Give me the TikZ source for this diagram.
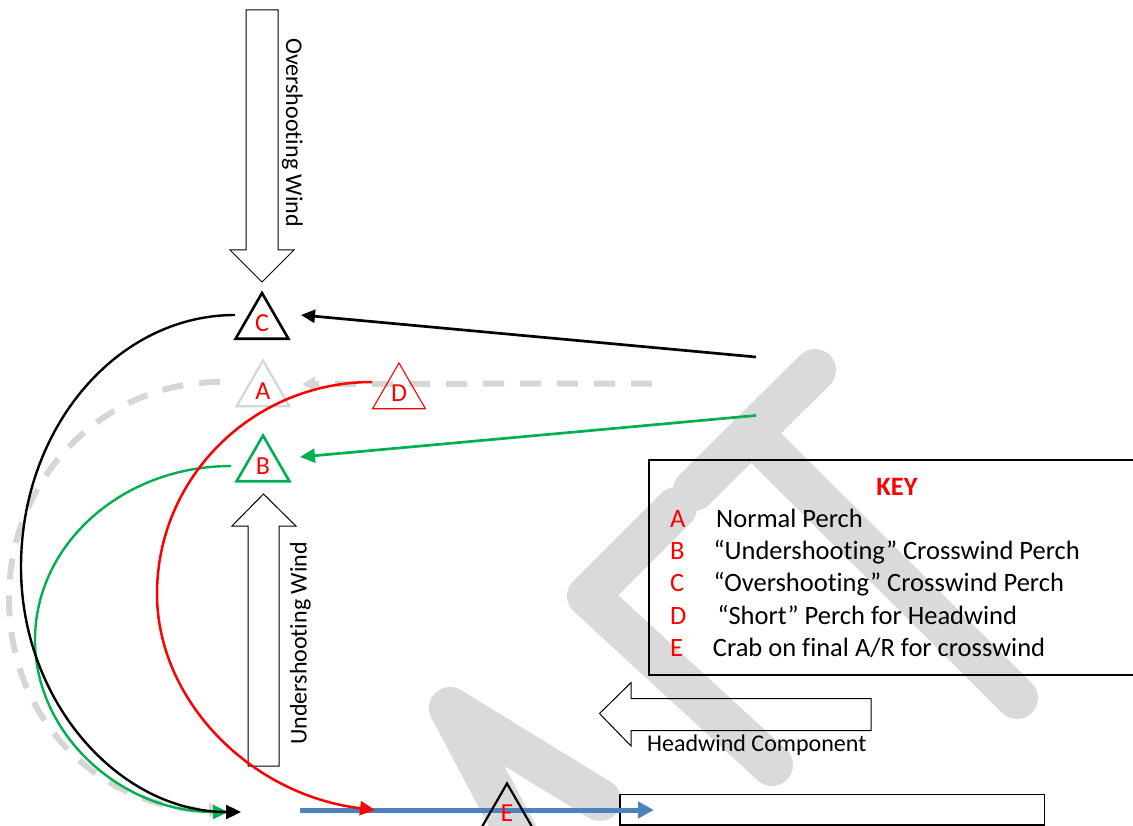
\documentclass[tikz,border=0pt]{standalone}
\usepackage{fontspec}
\setmainfont{Carlito}[Ligatures=NoCommon]
\usetikzlibrary{arrows.meta,shapes.geometric}
\definecolor{markgrey}{RGB}{218,218,218}
\definecolor{perchgrey}{RGB}{214,214,214}
\definecolor{pgreen}{RGB}{0,176,80}
\definecolor{pred}{RGB}{255,0,0}
\definecolor{pblue}{RGB}{79,129,189}
\begin{document}
\begin{tikzpicture}[x=1pt,y=-1pt,
  band/.style={draw=markgrey, line width=42pt, line cap=round, line join=round},
  blockarrow/.style={draw=black, line width=1pt, line join=miter},
  tri/.style={regular polygon, regular polygon sides=3, minimum size=61pt,
    inner sep=0pt, text=pred, font=\fontsize{26pt}{26pt}\selectfont},
  windlabel/.style={font=\fontsize{24pt}{28pt}\selectfont, inner sep=0pt},
  keytext/.style={font=\fontsize{26.5pt}{30pt}\selectfont, anchor=base west, inner sep=0pt},
  keyletter/.style={keytext, text=pred},
  tip/.style={-{Triangle[length=15pt,width=14pt]}},
  pathline/.style={line width=2.4pt},
]
\useasboundingbox (0,0) rectangle (1133,826);
\clip (0,0) rectangle (1133,826);

% background logo mark
\path[band] (815,370) -- (694,490);
\path[band] (676,508) -- (588,596) -- (772,765);
\path[band] (751,433) -- (1017,698);
\path[band] (525,850) -- (450,708) -- (600,800);

% wind arrows
\draw[blockarrow] (246,10) -- (278,10) -- (278,250) -- (294,250) -- (262,282)
  -- (230,250) -- (246,250) -- cycle;
\node[windlabel, rotate=-90, anchor=base] (owind) at (286,132.5) {Overshooting Wind};

\draw[blockarrow] (248,766) -- (248,526) -- (232,526) -- (263.5,494) -- (296,526)
  -- (279,526) -- (279,766) -- cycle;
\node[windlabel, rotate=90, anchor=base] (uwind) at (306.5,643.5) {Undershooting Wind};

\draw[blockarrow] (871,698.5) -- (631,698.5) -- (631,682.7) -- (599.5,713.5)
  -- (631,746) -- (631,730.5) -- (871,730.5) -- cycle;
\node[windlabel, anchor=base west] (hwind) at (647,751.7) {Headwind Component};

% runway
\draw[line width=1.5pt] (620,794.5) rectangle (1044.5,825);

% key
\draw[line width=1.3pt] (649,460) rectangle (1145,675);
\node[font=\fontsize{26.5pt}{30pt}\selectfont\bfseries, text=pred, anchor=base, inner sep=0pt]
  (key) at (897,495) {KEY};
\node[keyletter] (kA) at (670,527.3) {A};
\node[keyletter] (kB) at (670,559.5) {B};
\node[keyletter] (kC) at (670,591.7) {C};
\node[keyletter] (kD) at (670,624) {D};
\node[keyletter] (kE) at (670,656) {E};
\node[keytext] (tA) at (716,527.3) {Normal Perch};
\node[keytext] (tB) at (713.3,559.5) {“Undershooting” Crosswind Perch};
\node[keytext] (tC) at (713.3,591.7) {“Overshooting” Crosswind Perch};
\node[keytext] (tD) at (717.3,624) {“Short” Perch for Headwind};
\node[keytext] (tE) at (712.7,656) {Crab on final A/R for crosswind};

% normal pattern (grey, dashed)
\coordinate (nFrom) at (652,383.5);
\coordinate (nTo) at (302,384);
\draw[perchgrey, line width=6pt, dash pattern=on 21pt off 16pt,
  -{Triangle[length=13pt,width=14pt]}] (nFrom) -- (nTo);
\coordinate (nStart) at (220,382);
\coordinate (nLeft) at (9,598);
\coordinate (nEnd) at (222,810);
\draw[perchgrey, line width=6pt, dash pattern=on 21pt off 16pt,
  -{Triangle[length=13pt,width=14pt]}]
  (nStart) .. controls (103,382) and (9,478) .. (nLeft)
  .. controls (9,725) and (105,810) .. (nEnd);

% perch triangles
\node[tri, draw=perchgrey, line width=2.3pt] (A) at (263,391) {A};
\node[tri, draw=pred, line width=1.1pt] (D) at (399,393.5) {D};
\node[tri, draw=pgreen, line width=2.6pt] (B) at (263,466) {B};
\node[tri, draw=black, line width=2.6pt] (C) at (262,323.5) {C};

% undershooting pattern (green)
\coordinate (gFrom) at (756,415.5);
\coordinate (gTo) at (300,457);
\draw[pgreen, line width=2.7pt, tip] (gFrom) -- (gTo);
\coordinate (gStart) at (231,466);
\coordinate (gLeft) at (35,640);
\coordinate (gEnd) at (228,812);
\draw[pgreen, pathline, tip]
  (gStart) .. controls (122.7,466) and (35,543.9) .. (gLeft)
  .. controls (35,735) and (121.4,812) .. (gEnd);

% overshooting pattern (black)
\coordinate (cFrom) at (756,357);
\coordinate (cTo) at (301,315);
\draw[black, line width=2.7pt, -{Triangle[length=14pt,width=13pt]}] (cFrom) -- (cTo);
\coordinate (kStart) at (235,315);
\coordinate (kLeft) at (21,567);
\coordinate (kEnd) at (241,812);
\draw[black, pathline, tip]
  (kStart) .. controls (116.8,315) and (21,427.8) .. (kLeft)
  .. controls (21,702.3) and (119.5,812) .. (kEnd);

% final approach (blue) and crab marker
\coordinate (fFrom) at (300,810);
\coordinate (fTo) at (654,810);
\draw[pblue, line width=5pt, -{Triangle[length=16pt,width=16pt]}] (fFrom) -- (fTo);

% headwind pattern (red)
\coordinate (rStart) at (372,382);
\coordinate (rLeft) at (157,594);
\coordinate (rEnd) at (375,810);
\draw[pred, line width=2.5pt, tip]
  (rStart) .. controls (253.3,382) and (157,476.9) .. (rLeft)
  .. controls (157,700) and (250,795) .. (rEnd);

\node[tri, draw=black, line width=2.2pt] (E) at (507,814) {\raisebox{2.5pt}{E}};
\end{tikzpicture}
\end{document}
